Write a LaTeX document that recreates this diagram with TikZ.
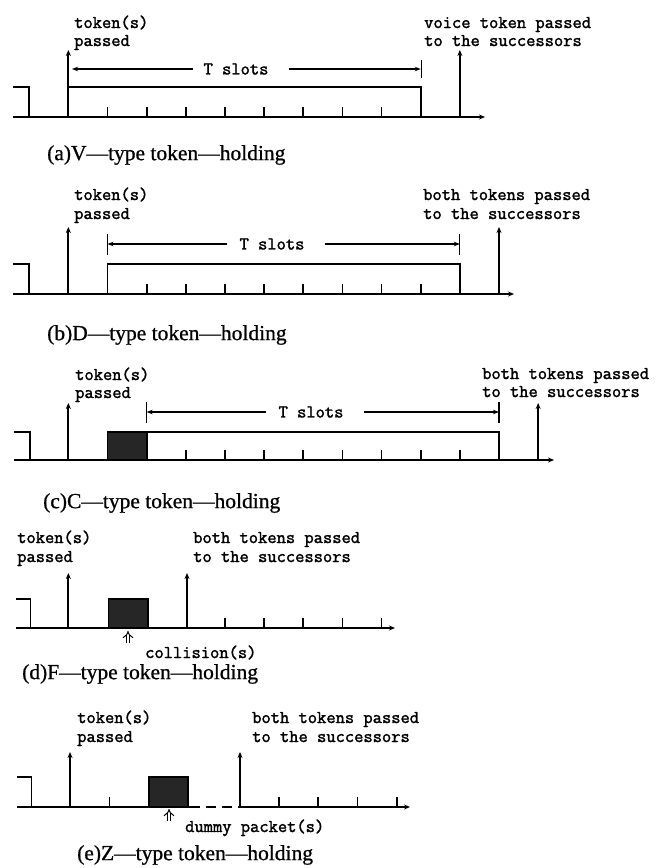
\documentclass[tikz,border=0pt]{standalone}
\usepackage{fontspec}
\setmainfont{Liberation Serif}
\newfontfamily\labfam{Latin Modern Mono}[FakeBold=1.8]
\newfontfamily\capfam{Liberation Serif}[FakeBold=0.8]
\usetikzlibrary{arrows.meta}
\newcommand\labfont{\fontsize{18}{20}\selectfont\labfam}
\newcommand\capfont{\fontsize{21.5}{24}\selectfont\capfam}
\newcommand\Lt[1]{#1}
\tikzset{
  ln/.style={line width=1.8pt},
  up/.style={line width=1.8pt, -{Stealth[length=6pt,width=5pt]}},
  axis/.style={line width=1.8pt, -{Stealth[length=6pt,width=5pt]}},
  dim/.style={line width=1.1pt},
  dimarr/.style={line width=1.1pt, -{Stealth[length=6pt,width=4.5pt]}},
  lab/.style={font=\labfont, inner sep=0pt, anchor=base west},
  tsl/.style={font=\labfont, inner sep=0pt, anchor=center},
  captxt/.style={font=\capfont, inner sep=0pt, anchor=west},
  pkt/.style={draw=black, fill=black!85, line width=1.5pt},
  coll/.style={double distance=2.6pt, line width=1pt, -{Implies}},
}
\begin{document}
\begin{tikzpicture}[x=1pt,y=-1pt]
\useasboundingbox (0,0) rectangle (662,868);
% ---------------- (a) ----------------
\node[lab] (a1) at (74,28) {\Lt{token(s)}};
\node[lab] (a2) at (74,46) {\Lt{passed}};
\node[lab] (a3) at (424,28) {\Lt{voice token passed}};
\node[lab] (a4) at (424,46) {\Lt{to the successors}};
\draw[ln] (13,87) -- (29.2,87) -- (29.2,117);
\draw[axis] (13,117) -- (485,117);
\coordinate (aup1) at (68.35,50);
\coordinate (aup2) at (459.85,50);
\draw[up] (68.35,117) -- (aup1);
\draw[ln] (68.35,117) -- (68.35,87) -- (420.7,87) -- (420.7,117);
\foreach \k in {2,...,9} \draw[ln] ({29.2+39.15*\k},117) -- ({29.2+39.15*\k},107);
\draw[up] (459.85,117) -- (aup2);
\node[tsl] (ta) at (236,69) {\Lt{T slots}};
\coordinate (tal) at (72,69);
\coordinate (tar) at (420.7,69);
\draw[dimarr] ([xshift=-10pt]ta.west) -- (tal);
\draw[dimarr] ([xshift=20pt]ta.east) -- (tar);
\draw[dim] (421.5,60) -- (421.5,78);
\node[captxt] (ca) at (47,155) {(a)V—type token—holding};
% ---------------- (b) ----------------
\node[lab] (b1) at (74,200) {\Lt{token(s)}};
\node[lab] (b2) at (74,219) {\Lt{passed}};
\node[lab] (b3) at (423,200) {\Lt{both tokens passed}};
\node[lab] (b4) at (423,219) {\Lt{to the successors}};
\draw[ln] (13,264) -- (29.2,264) -- (29.2,294);
\draw[axis] (13,294) -- (514,294);
\coordinate (bup1) at (68.35,227);
\coordinate (bup2) at (499,227);
\draw[up] (68.35,294) -- (bup1);
\draw[ln] (107.5,294) -- (107.5,264) -- (459.85,264) -- (459.85,294);
\foreach \k in {3,...,10} \draw[ln] ({29.2+39.15*\k},294) -- ({29.2+39.15*\k},284);
\draw[up] (499,294) -- (bup2);
\node[tsl] (tb) at (272,244) {\Lt{T slots}};
\coordinate (tbl) at (107.5,244);
\coordinate (tbr) at (459.85,244);
\draw[dimarr] ([xshift=-12pt]tb.west) -- (tbl);
\draw[dimarr] ([xshift=20pt]tb.east) -- (tbr);
\draw[dim] (107.5,234) -- (107.5,255);
\draw[dim] (459.85,234) -- (459.85,255);
\node[captxt] (cb) at (47,335) {(b)D—type token—holding};
% ---------------- (c) ----------------
\node[lab] (c1) at (75,380) {\Lt{token(s)}};
\node[lab] (c2) at (75,398) {\Lt{passed}};
\node[lab] (c3) at (482,379) {\Lt{both tokens passed}};
\node[lab] (c4) at (482,397) {\Lt{to the successors}};
\draw[ln] (14,432) -- (30,432) -- (30,460);
\draw[axis] (14,460) -- (554,460);
\coordinate (cup1) at (68.35,403);
\coordinate (cup2) at (538.15,403);
\draw[up] (68.35,460) -- (cup1);
\draw[pkt] (107.5,460) rectangle (146.65,432);
\draw[ln] (146.65,460) -- (146.65,432) -- (499,432) -- (499,460);
\foreach \k in {4,...,11} \draw[ln] ({29.2+39.15*\k},460) -- ({29.2+39.15*\k},450);
\draw[up] (538.15,460) -- (cup2);
\node[tsl] (tc) at (311,412) {\Lt{T slots}};
\coordinate (tcl) at (146.65,412);
\coordinate (tcr) at (499,412);
\draw[dimarr] ([xshift=-12pt]tc.west) -- (tcl);
\draw[dimarr] ([xshift=20pt]tc.east) -- (tcr);
\draw[dim] (146.65,402) -- (146.65,423);
\draw[dim] (499,402) -- (499,423);
\node[captxt] (cc) at (43,503) {(c)C—type token—holding};
% ---------------- (d) ----------------
\node[lab] (d1) at (17,543) {\Lt{token(s)}};
\node[lab] (d2) at (17,562) {\Lt{passed}};
\node[lab] (d3) at (193,543) {\Lt{both tokens passed}};
\node[lab] (d4) at (193,562) {\Lt{to the successors}};
\draw[ln] (16,599) -- (30.5,599) -- (30.5,628);
\draw[axis] (16,628) -- (395,628);
\coordinate (dup1) at (68.35,573);
\coordinate (dup2) at (187,573);
\draw[up] (68.35,628) -- (dup1);
\draw[pkt] (108.5,628) rectangle (148,599);
\draw[up] (187,628) -- (dup2);
\foreach \k in {5,...,9} \draw[ln] ({29.2+39.15*\k},628) -- ({29.2+39.15*\k},618);
\node[lab] (dcol) at (145,658) {\Lt{collision(s)}};
\coordinate (dct) at (128,631);
\draw[coll] (128,643) -- (dct);
\node[captxt] (cd) at (22,674) {(d)F—type token—holding};
% ---------------- (e) ----------------
\node[lab] (e1) at (77,723) {\Lt{token(s)}};
\node[lab] (e2) at (77,742) {\Lt{passed}};
\node[lab] (e3) at (252,723) {\Lt{both tokens passed}};
\node[lab] (e4) at (252,742) {\Lt{to the successors}};
\draw[ln] (17,777) -- (31.5,777) -- (31.5,807);
\draw[ln] (17,807) -- (200,807);
\draw[ln, dash pattern=on 10pt off 6pt] (206,807) -- (240,807);
\draw[axis] (240,807) -- (410,807);
\coordinate (eup1) at (70,752);
\coordinate (eup2) at (240,752);
\draw[up] (70,807) -- (eup1);
\draw[ln] (109.5,807) -- (109.5,797);
\draw[pkt] (149,807) rectangle (188,777);
\draw[up] (240,807) -- (eup2);
\foreach \j in {1,...,4} \draw[ln] ({240+39.15*\j},807) -- ({240+39.15*\j},797);
\node[lab] (edum) at (185,832) {\Lt{dummy packet(s)}};
\coordinate (ect) at (169,809);
\draw[coll] (169,821) -- (ect);
\node[captxt] (ce) at (77,855) {(e)Z—type token—holding};
\end{tikzpicture}
\end{document}
